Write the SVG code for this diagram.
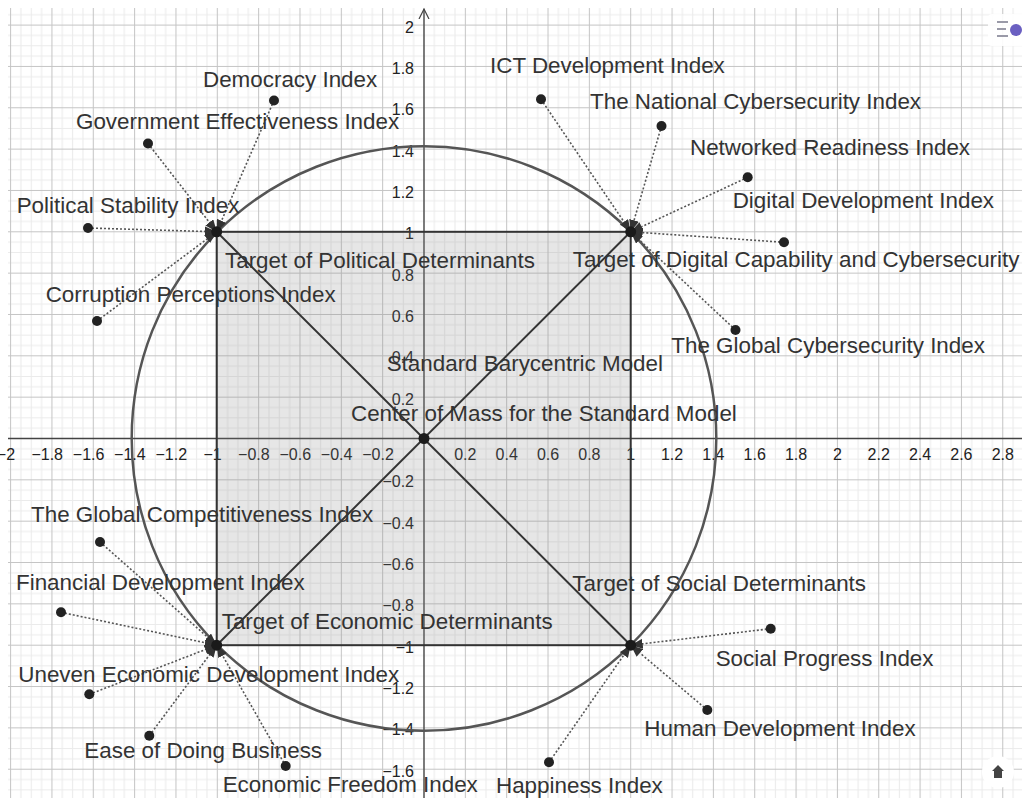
<svg xmlns="http://www.w3.org/2000/svg" width="1022" height="798" viewBox="0 0 1022 798">
<defs>
<pattern id="grid" patternUnits="userSpaceOnUse" x="423.5" y="438" width="41.34" height="41.34">
<rect width="41.34" height="41.34" fill="#fff"/>
<path d="M10.835 0V41.34M21.17 0V41.34M31.505 0V41.34M0 10.835H41.34M0 21.17H41.34M0 31.505H41.34" stroke="#ebebeb" stroke-width="1"/>
<path d="M0.5 0V41.34M0 0.5H41.34" stroke="#c4c4c4" stroke-width="1"/>
</pattern>
<marker id="arr" markerUnits="userSpaceOnUse" markerWidth="12" markerHeight="10" refX="12" refY="5" orient="auto">
<path d="M0,0 L12,5 L0,10 z" fill="#333"/>
</marker>
<marker id="yarr" markerUnits="userSpaceOnUse" markerWidth="12" markerHeight="12" refX="10" refY="6" orient="auto">
<path d="M0,1 L10,6 L0,11" fill="none" stroke="#444" stroke-width="1.2"/>
</marker>
</defs>
<style>
.lbl{font-family:"Liberation Sans",Arial,sans-serif;font-size:22.4px;fill:#333}
.ax{font-family:"Liberation Sans",Arial,sans-serif;font-size:16px;fill:#222}
.axx{text-anchor:middle}
.axy{text-anchor:end}
.conn{stroke:#555;stroke-width:1.6;stroke-dasharray:2 2;fill:none;marker-end:url(#arr)}
.pt{fill:#222}
.tg{fill:#1a1a1a}
.edge{stroke:#333;stroke-width:2;fill:none}
</style>
<rect width="1022" height="798" fill="#fff"/>
<rect x="8" y="8" width="1014" height="790" fill="url(#grid)"/>

<g id="axes">
<line x1="8" y1="438.5" x2="1022" y2="438.5" stroke="#444" stroke-width="1.3"/>
<line x1="424" y1="798" x2="424" y2="9" stroke="#444" stroke-width="1.3" marker-end="url(#yarr)"/>
<g class="ax axx">
<text x="5.9" y="460">−2</text>
<text x="47.2" y="460">−1.8</text>
<text x="88.6" y="460">−1.6</text>
<text x="129.9" y="460">−1.4</text>
<text x="171.3" y="460">−1.2</text>
<text x="212.6" y="460">−1</text>
<text x="253.9" y="460">−0.8</text>
<text x="295.3" y="460">−0.6</text>
<text x="336.6" y="460">−0.4</text>
<text x="378" y="460">−0.2</text>
<text x="465.3" y="460">0.2</text>
<text x="506.7" y="460">0.4</text>
<text x="548" y="460">0.6</text>
<text x="589.4" y="460">0.8</text>
<text x="630.7" y="460">1</text>
<text x="672" y="460">1.2</text>
<text x="713.4" y="460">1.4</text>
<text x="754.7" y="460">1.6</text>
<text x="796" y="460">1.8</text>
<text x="837.4" y="460">2</text>
<text x="878.7" y="460">2.2</text>
<text x="920" y="460">2.4</text>
<text x="961.4" y="460">2.6</text>
<text x="1002.8" y="460">2.8</text>
</g>
<g class="ax axy">
<text x="414" y="32.6">2</text>
<text x="414" y="73.9">1.8</text>
<text x="414" y="115.3">1.6</text>
<text x="414" y="156.6">1.4</text>
<text x="414" y="198">1.2</text>
<text x="414" y="239.3">1</text>
<text x="414" y="280.6">0.8</text>
<text x="414" y="322">0.6</text>
<text x="414" y="363.3">0.4</text>
<text x="414" y="404.7">0.2</text>
<text x="414" y="487.3">−0.2</text>
<text x="414" y="528.7">−0.4</text>
<text x="414" y="570">−0.6</text>
<text x="414" y="611.4">−0.8</text>
<text x="414" y="652.7">−1</text>
<text x="414" y="694">−1.2</text>
<text x="414" y="735.4">−1.4</text>
<text x="414" y="776.7">−1.6</text>
</g>
</g>

<g id="standard-model">
<rect x="216.7" y="231.8" width="414" height="413.4" fill="#808080" fill-opacity="0.2" stroke="#333" stroke-width="2"/>
<line class="edge" x1="216.7" y1="231.8" x2="630.7" y2="645.2"/>
<line class="edge" x1="216.7" y1="645.2" x2="630.7" y2="231.8"/>
<text class="lbl" x="386.7" y="370.7">Standard Barycentric Model</text>
</g>

<g id="circle">
<circle cx="424" cy="438.5" r="292.3" fill="none" stroke="#555" stroke-width="2.5"/>
</g>

<g id="connectors">
<line class="conn" x1="274" y1="100.5" x2="216.7" y2="231.8"/>
<line class="conn" x1="148" y1="143.5" x2="216.7" y2="231.8"/>
<line class="conn" x1="88" y1="228" x2="216.7" y2="231.8"/>
<line class="conn" x1="97" y1="321" x2="216.7" y2="231.8"/>
<line class="conn" x1="541" y1="99.3" x2="630.7" y2="231.8"/>
<line class="conn" x1="661.5" y1="126" x2="630.7" y2="231.8"/>
<line class="conn" x1="747.7" y1="177.3" x2="630.7" y2="231.8"/>
<line class="conn" x1="784" y1="242.3" x2="630.7" y2="231.8"/>
<line class="conn" x1="735.5" y1="330" x2="630.7" y2="231.8"/>
<line class="conn" x1="100" y1="542" x2="216.7" y2="645.2"/>
<line class="conn" x1="61" y1="612.3" x2="216.7" y2="645.2"/>
<line class="conn" x1="89.3" y1="694.3" x2="216.7" y2="645.2"/>
<line class="conn" x1="149.3" y1="735.7" x2="216.7" y2="645.2"/>
<line class="conn" x1="285.7" y1="766" x2="216.7" y2="645.2"/>
<line class="conn" x1="549" y1="762.3" x2="630.7" y2="645.2"/>
<line class="conn" x1="707.3" y1="710" x2="630.7" y2="645.2"/>
<line class="conn" x1="770.7" y1="628.7" x2="630.7" y2="645.2"/>
</g>

<g id="center">
<circle class="tg" cx="424" cy="438.5" r="5.5"/>
<text class="lbl" x="351" y="420.7">Center of Mass for the Standard Model</text>
</g>

<g id="target-political">
<circle class="tg" cx="216.7" cy="231.8" r="5.5"/>
<text class="lbl" x="225" y="268.3">Target of Political Determinants</text>
</g>
<g id="target-digital">
<circle class="tg" cx="630.7" cy="231.8" r="5.5"/>
<text class="lbl" x="572.7" y="266.7">Target of Digital Capability and Cybersecurity</text>
</g>
<g id="target-economic">
<circle class="tg" cx="216.7" cy="645.2" r="5.5"/>
<text class="lbl" x="221.7" y="629.3">Target of Economic Determinants</text>
</g>
<g id="target-social">
<circle class="tg" cx="630.7" cy="645.2" r="5.5"/>
<text class="lbl" x="572.3" y="591">Target of Social Determinants</text>
</g>

<g id="democracy-index">
<circle class="pt" cx="274" cy="100.5" r="5"/>
<text class="lbl" x="203" y="87.3">Democracy Index</text>
</g>
<g id="government-effectiveness-index">
<circle class="pt" cx="148" cy="143.5" r="5"/>
<text class="lbl" x="76" y="129.3">Government Effectiveness Index</text>
</g>
<g id="political-stability-index">
<circle class="pt" cx="88" cy="228" r="5"/>
<text class="lbl" x="16.7" y="213.3">Political Stability Index</text>
</g>
<g id="corruption-perceptions-index">
<circle class="pt" cx="97" cy="321" r="5"/>
<text class="lbl" x="45.7" y="302.3">Corruption Perceptions Index</text>
</g>
<g id="ict-development-index">
<circle class="pt" cx="541" cy="99.3" r="5"/>
<text class="lbl" x="490" y="72.7">ICT Development Index</text>
</g>
<g id="national-cybersecurity-index">
<circle class="pt" cx="661.5" cy="126" r="5"/>
<text class="lbl" x="590" y="109.3">The National Cybersecurity Index</text>
</g>
<g id="networked-readiness-index">
<circle class="pt" cx="747.7" cy="177.3" r="5"/>
<text class="lbl" x="690" y="155">Networked Readiness Index</text>
</g>
<g id="digital-development-index">
<circle class="pt" cx="784" cy="242.3" r="5"/>
<text class="lbl" x="732.7" y="208.3">Digital Development Index</text>
</g>
<g id="global-cybersecurity-index">
<circle class="pt" cx="735.5" cy="330" r="5"/>
<text class="lbl" x="671.3" y="352.7">The Global Cybersecurity Index</text>
</g>
<g id="global-competitiveness-index">
<circle class="pt" cx="100" cy="542" r="5"/>
<text class="lbl" x="31" y="521.7">The Global Competitiveness Index</text>
</g>
<g id="financial-development-index">
<circle class="pt" cx="61" cy="612.3" r="5"/>
<text class="lbl" x="16" y="590">Financial Development Index</text>
</g>
<g id="uneven-economic-development-index">
<circle class="pt" cx="89.3" cy="694.3" r="5"/>
<text class="lbl" x="18.3" y="681.7">Uneven Economic Development Index</text>
</g>
<g id="ease-of-doing-business">
<circle class="pt" cx="149.3" cy="735.7" r="5"/>
<text class="lbl" x="84.3" y="757.7">Ease of Doing Business</text>
</g>
<g id="economic-freedom-index">
<circle class="pt" cx="285.7" cy="766" r="5"/>
<text class="lbl" x="222.7" y="791.7">Economic Freedom Index</text>
</g>
<g id="happiness-index">
<circle class="pt" cx="549" cy="762.3" r="5"/>
<text class="lbl" x="496" y="792.7">Happiness Index</text>
</g>
<g id="human-development-index">
<circle class="pt" cx="707.3" cy="710" r="5"/>
<text class="lbl" x="644.3" y="735.7">Human Development Index</text>
</g>
<g id="social-progress-index">
<circle class="pt" cx="770.7" cy="628.7" r="5"/>
<text class="lbl" x="715.7" y="666">Social Progress Index</text>
</g>

<g id="style-bar-button">
<rect x="988" y="14" width="40" height="32" rx="4" fill="#fff" fill-opacity="0.9"/>
<path d="M997 22H1008M997 29H1006M997 36H1008" stroke="#9a9aa8" stroke-width="2"/>
<circle cx="1016" cy="30" r="6" fill="#6a5fc1"/>
</g>
<g id="home-button">
<circle cx="998" cy="772" r="16" fill="#fff"/>
<path d="M998 765L992 771H994V778H1002V771H1004Z" fill="#444"/>
</g>
</svg>
